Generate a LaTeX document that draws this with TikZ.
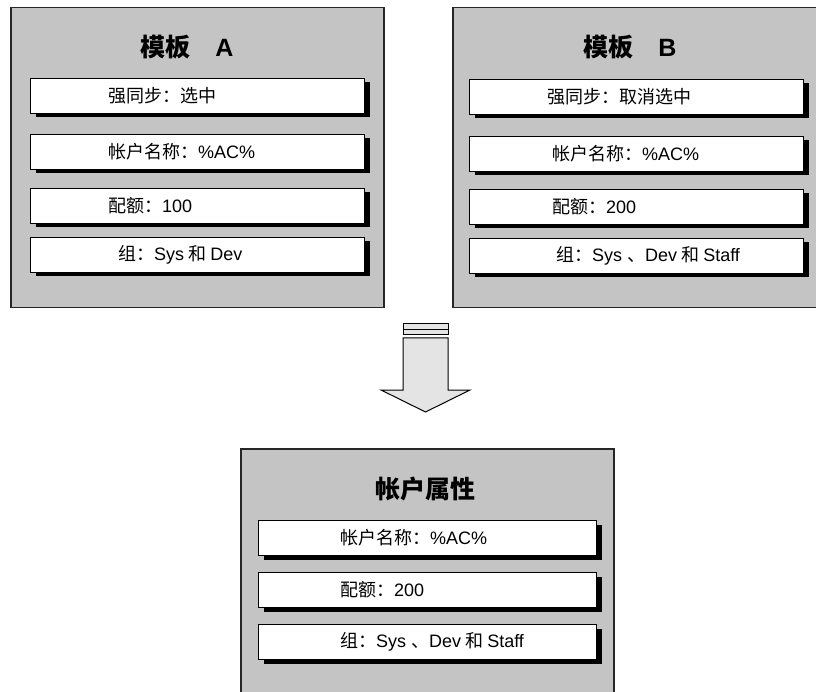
\documentclass[tikz,border=0pt]{standalone}
\usepackage{fontspec}
\setmainfont{Noto Sans CJK SC}
\newfontfamily\lat{Liberation Sans}
\usetikzlibrary{shadows}
\definecolor{panelgray}{RGB}{196,196,196}
\definecolor{arrowgray}{RGB}{228,228,228}
\tikzset{
  panel/.style={draw=black!85, line width=1.5pt, fill=panelgray, inner sep=0pt, anchor=north west},
  rowbox/.style={draw=black, line width=1pt, fill=white, minimum height=35pt, inner sep=0pt,
    general shadow={fill=black, shadow xshift=6pt, shadow yshift=-4pt}},
  rowtxt/.style={anchor=west, inner sep=0pt, font=\fontsize{18pt}{21pt}\selectfont},
  titletxt/.style={inner sep=0pt, font=\bfseries\fontsize{25pt}{29pt}\selectfont},
  arrowpart/.style={draw=black, line width=1pt, fill=arrowgray, line join=miter}
}
\begin{document}
\begin{tikzpicture}[x=1pt,y=-1pt]
\useasboundingbox (0,0) rectangle (816,692);
% panels
\node[panel, minimum width=373pt, minimum height=300pt] (pA) at (10,7) {};
\node[panel, minimum width=370pt, minimum height=300pt] (pB) at (452,7) {};
\node[panel, minimum width=373pt, minimum height=250pt] (pC) at (240,448) {};
% titles
\node[titletxt] (tA) at (187,47) {模板\hspace{1em}{\lat\bfseries A}};
\node[titletxt] (tB) at (630,47) {模板\hspace{1em}{\lat\bfseries B}};
\node[titletxt] (tC) at (425,489) {帐户属性};
% panel A rows
\node[rowbox, minimum width=334pt] (a1) at (197,96) {};
\node[rowbox, minimum width=334pt] (a2) at (197,152) {};
\node[rowbox, minimum width=334pt] (a3) at (197,206) {};
\node[rowbox, minimum width=334pt] (a4) at (197,255) {};
\node[rowtxt] (a1t) at (108,96) {强同步：选中};
\node[rowtxt] (a2t) at (108,152) {帐户名称：{\lat \%AC\%}};
\node[rowtxt] (a3t) at (108,206) {配额：{\lat 100}};
\node[rowtxt] (a4t) at (118,255) {组：{\lat Sys} 和 {\lat Dev}};
% panel B rows
\node[rowbox, minimum width=334pt] (b1) at (636,97) {};
\node[rowbox, minimum width=334pt] (b2) at (636,154) {};
\node[rowbox, minimum width=334pt] (b3) at (636,207) {};
\node[rowbox, minimum width=334pt] (b4) at (636,256) {};
\node[rowtxt] (b1t) at (547,97) {强同步：取消选中};
\node[rowtxt] (b2t) at (552,154) {帐户名称：{\lat \%AC\%}};
\node[rowtxt] (b3t) at (552,207) {配额：{\lat 200}};
\node[rowtxt] (b4t) at (556,256) {组：{\lat Sys }、{\lat Dev} 和 {\lat Staff}};
% bottom panel rows
\node[rowbox, minimum width=338pt] (c1) at (427,538) {};
\node[rowbox, minimum width=338pt] (c2) at (427,590) {};
\node[rowbox, minimum width=338pt] (c3) at (427,642) {};
\node[rowtxt] (c1t) at (340,538) {帐户名称：{\lat \%AC\%}};
\node[rowtxt] (c2t) at (340,590) {配额：{\lat 200}};
\node[rowtxt] (c3t) at (340,642) {组：{\lat Sys }、{\lat Dev} 和 {\lat Staff}};
% arrow
\draw[arrowpart] (403,324) rectangle (448,335);
\draw[line width=1pt] (403,329.5) -- (448,329.5);
\draw[arrowpart] (403,338) -- (448,338) -- (448,390) -- (470,390) -- (425.5,412)
  -- (381,390) -- (403,390) -- cycle;
\end{tikzpicture}
\end{document}
